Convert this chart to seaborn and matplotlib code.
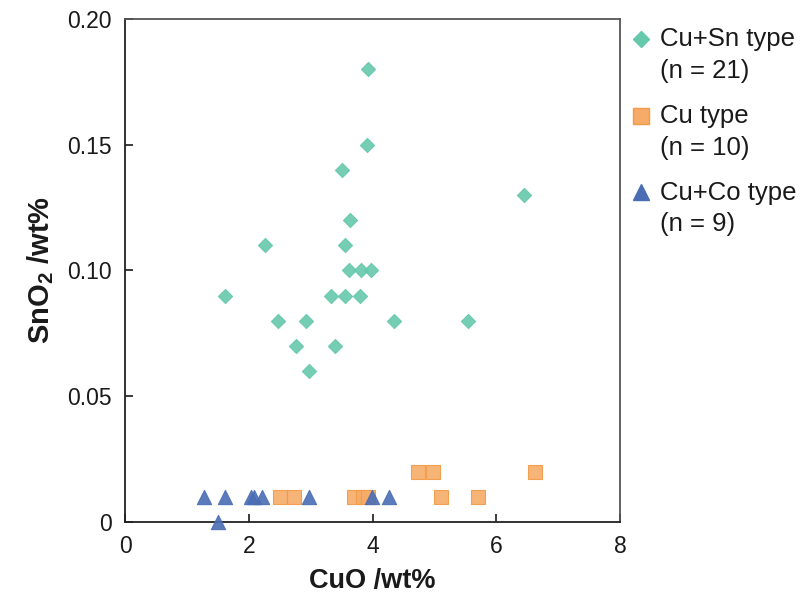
import pandas as pd
import seaborn as sns
import matplotlib.pyplot as plt
from matplotlib.lines import Line2D
from matplotlib.legend_handler import HandlerLine2D
from matplotlib.transforms import Affine2D

# Cu+Sn type (n = 21)
cusn_cuo = [3.93, 3.91, 3.51, 6.44, 3.63, 2.26, 3.56, 3.62, 3.81, 3.97, 1.61,
            3.33, 3.56, 3.79, 2.47, 2.92, 4.34, 5.54, 2.76, 3.39, 2.97]
cusn_sno2 = [0.18, 0.15, 0.14, 0.13, 0.12, 0.11, 0.11, 0.10, 0.10, 0.10, 0.09,
             0.09, 0.09, 0.09, 0.08, 0.08, 0.08, 0.08, 0.07, 0.07, 0.06]
# Cu type (n = 10)
cu_cuo = [4.74, 4.98, 6.62, 2.51, 2.73, 3.70, 3.85, 3.92, 5.11, 5.70]
cu_sno2 = [0.02, 0.02, 0.02, 0.01, 0.01, 0.01, 0.01, 0.01, 0.01, 0.01]
# Cu+Co type (n = 9)
cuco_cuo = [1.27, 1.62, 2.04, 2.09, 2.21, 2.98, 3.99, 4.27, 1.51]
cuco_sno2 = [0.01, 0.01, 0.01, 0.01, 0.01, 0.01, 0.01, 0.01, 0.00]

groups = ["Cu+Sn type\n(n = 21)", "Cu type\n(n = 10)", "Cu+Co type\n(n = 9)"]

df = pd.concat([
    pd.DataFrame({"CuO": cusn_cuo, "SnO2": cusn_sno2, "group": groups[0]}),
    pd.DataFrame({"CuO": cu_cuo, "SnO2": cu_sno2, "group": groups[1]}),
    pd.DataFrame({"CuO": cuco_cuo, "SnO2": cuco_sno2, "group": groups[2]}),
])

style = {
    groups[0]: dict(marker="D", s=52, ms=8.5, color="#66C9AC", edgecolor="#66C9AC"),
    groups[1]: dict(marker="s", s=100, ms=11.5, color="#F6AC68", edgecolor="#F29A45"),
    groups[2]: dict(marker="^", s=105, ms=12, color="#4A6DB4", edgecolor="#4A6DB4"),
}


# put the legend marker next to the first line of a two-line label
class HandlerFirstLine(HandlerLine2D):
    def create_artists(self, legend, orig_handle, xdescent, ydescent,
                       width, height, fontsize, trans):
        return super().create_artists(legend, orig_handle, xdescent, ydescent,
                                      width, height, fontsize,
                                      trans + Affine2D().translate(0, 16.5))


sns.set_style("ticks")
plt.rcParams["font.family"] = ["Liberation Sans", "DejaVu Sans"]
plt.rcParams["mathtext.fontset"] = "custom"
plt.rcParams["mathtext.rm"] = "Liberation Sans"
plt.rcParams["mathtext.bf"] = "Liberation Sans:bold"

fig = plt.figure(figsize=(8.04, 6.04), dpi=100)
ax = fig.add_axes([0.1555, 0.1358, 0.6157, 0.8328])

for g in groups:
    st = style[g]
    sns.scatterplot(data=df[df["group"] == g], x="CuO", y="SnO2", ax=ax,
                    marker=st["marker"], s=st["s"], color=st["color"],
                    edgecolor=st["edgecolor"], linewidth=0.8, alpha=0.9,
                    zorder=3, clip_on=False)

ax.set_xlim(0, 8)
ax.set_ylim(0, 0.20)
ax.set_xticks([0, 2, 4, 6, 8])
ax.set_xticklabels(["0", "2", "4", "6", "8"])
ax.set_yticks([0, 0.05, 0.10, 0.15, 0.20])
ax.set_yticklabels(["0", "0.05", "0.10", "0.15", "0.20"])
ax.tick_params(direction="in", length=6, width=1.2, labelsize=16.5,
               colors="#1a1a1a", pad=9.5)
for sp in ax.spines.values():
    sp.set_visible(True)
    sp.set_linewidth(1.3)
    sp.set_color("#222222")
ax.spines["top"].set_color("#555555")
ax.spines["right"].set_color("#555555")

ax.set_xlabel("CuO /wt%", fontsize=19.5, fontweight="bold", labelpad=7,
              color="#1a1a1a")
ax.set_ylabel("SnO$_\\mathbf{2}$ /wt%", fontsize=21, fontweight="bold",
              labelpad=8, color="#1a1a1a")

handles = [Line2D([], [], linestyle="none", marker=style[g]["marker"],
                  markersize=style[g]["ms"],
                  markerfacecolor=style[g]["color"],
                  markeredgecolor=style[g]["edgecolor"]) for g in groups]
leg = ax.legend(handles, groups, loc="upper left", bbox_to_anchor=(1.0, 1.004),
                frameon=False, fontsize=18.5, handlelength=0.8,
                handletextpad=0.35, labelspacing=0.82, borderaxespad=0,
                borderpad=0.4, handler_map={Line2D: HandlerFirstLine()})
for txt in leg.get_texts():
    txt.set_linespacing(1.4)
    txt.set_color("#1a1a1a")

fig.savefig("out.png", dpi=100)
